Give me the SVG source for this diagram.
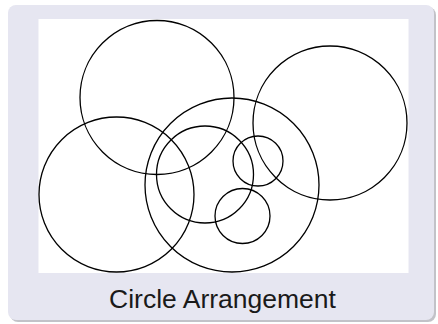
<svg xmlns="http://www.w3.org/2000/svg" width="438" height="324" viewBox="0 0 438 324">
<style>
.c{fill:none;stroke:#000;stroke-width:1.3}
.t{font-family:"Liberation Sans","DejaVu Sans",sans-serif;font-size:26.5px;fill:#1a1a1a;text-anchor:middle}
</style>
<rect x="10" y="7" width="426" height="315" rx="8" fill="#9a9aa4" opacity="0.6"/>
<rect x="8" y="5" width="426" height="315" rx="8" fill="#e6e6f1"/>
<rect x="38.5" y="19" width="370" height="254" fill="#fff"/>
<g id="c1"><circle class="c" cx="157" cy="97.5" r="77"/></g>
<g id="c2"><circle class="c" cx="330" cy="123" r="77"/></g>
<g id="c3"><circle class="c" cx="116.5" cy="194.5" r="77.5"/></g>
<g id="c4"><circle class="c" cx="232" cy="185" r="87"/></g>
<g id="c5"><circle class="c" cx="205" cy="174.5" r="48.5"/></g>
<g id="c6"><circle class="c" cx="258" cy="161" r="25"/></g>
<g id="c7"><circle class="c" cx="242.5" cy="216" r="27.5"/></g>
<g id="connectors"></g>
<text class="t" x="222.5" y="308">Circle Arrangement</text>
</svg>
